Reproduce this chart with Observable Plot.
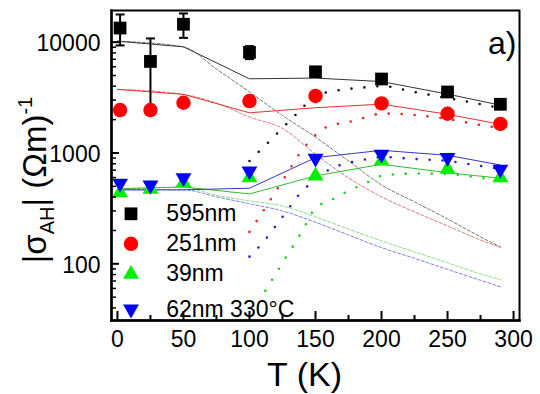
<!DOCTYPE html>
<html><head><meta charset="utf-8">
<script src="https://cdn.jsdelivr.net/npm/d3@7"></script>
<script src="https://cdn.jsdelivr.net/npm/@observablehq/plot@0.6"></script>
<style>body{margin:0;background:#fff;}</style>
</head><body><div id="chart"></div>
<script>
// Measured points
const T = [2, 25, 50, 100, 150, 200, 250, 290];
const s595 = [13400, 6700, 14500, 8100, 5400, 4650, 3550, 2750];
const s251 = [2440, 2440, 2840, 2940, 3270, 2800, 2260, 1830];
const s39  = [439, 471, 540, 598, 621, 847, 713, 598];
const s62  = [533, 512, 598, 688, 896, 973, 908, 713];
// Error bars (595 nm)
const errT = [2, 25, 50, 100];
const errLo = [9340, 2650, 10930, 7030];
const errHi = [17770, 10800, 18150, 9200];
// Solid fit lines
const fitT = [0, 50, 100, 150, 200, 250, 290];
const fit595 = [10200, 9070, 4670, 4740, 4410, 3400, 2700];
const fit251 = [3750, 3380, 2305, 2560, 2760, 2235, 1815];
const fit39  = [475, 494, 427, 621, 791, 664, 592];
const fit62  = [465, 465, 481, 908, 1057, 953, 779];
// Dashed (decreasing) contributions
const dashT = [0, 50, 75, 100, 125, 150, 175, 200, 225, 250, 275, 290];
const dash595 = [10200, 9070, 5715, 3550, 2180, 1390, 847, 515, 362, 254, 175, 142];
const dash251 = [3750, 3380, 2820, 2110, 1665, 977, 596, 402, 294, 220, 164, 141];
const dash39  = [475, 489, 415, 370, 333, 265, 206, 161, 128, 102, 81, 72];
const dash62  = [465, 465, 402, 348, 300, 237, 182, 140, 112, 89, 71, 62];
// Dotted (increasing) contributions
const dotT = [100, 110, 125, 140, 150, 160, 175, 190, 200, 225, 250, 275, 290];
const dot595 = [847, 1110, 1680, 2540, 3335, 3550, 3780, 3935, 4020, 3550, 3125, 2760, 2540];
const dot251 = [194, 294, 560, 1065, 1452, 1750, 1900, 2130, 2270, 2200, 2024, 1786, 1680];
const dot62  = [116, 155, 265, 455, 571, 703, 813, 883, 920, 883, 847, 764, 718];
const dotT39 = [112, 125, 140, 150, 160, 175, 190, 200, 225, 250, 275, 290];
const dot39  = [57, 102, 198, 320, 366, 455, 548, 621, 653, 647, 596, 560];
// Axis ticks
const xMajor = [0, 50, 100, 150, 200, 250, 300];
const xMinor = [25, 75, 125, 175, 225, 275];
const yMajor = [100, 1000, 10000];
const yMinor = [40,50,60,70,80,90,200,300,400,500,600,700,800,900,2000,3000,4000,5000,6000,7000,8000,9000];
// Legend
const legLabels = ["595nm", "251nm", "39nm", "62nm 330\u00B0C"];

const W = 540, H = 394, mL = 111, mR = 21, mT = 10, mB = 74;
const innerW = W - mL - mR, innerH = H - mT - mB;
const rows = (xs, ys) => xs.map((x, i) => ({x, y: ys[i]}));
const FONT = "Liberation Sans, Arial, Helvetica, sans-serif";

const markerColors = ["#000000", "#ff0000", "#00ee00", "#0000ff"];
const solidColors = ["#333333", "#e23232", "#33bb33", "#3535c8"];
const dashColors = ["#666666", "#e06a6a", "#7ad87a", "#7070d8"];
const dotColors = ["#111111", "#e82020", "#22cc22", "#2020d0"];
const symbols = ["square", "circle", "triangle", "triangle"];
const rotates = [0, 0, 0, 180];
const radii = [7.2, 7.2, 5.9, 5.9];

const pts = [s595, s251, s39, s62];
const fits = [fit595, fit251, fit39, fit62];
const dashes = [dash595, dash251, dash39, dash62];
const dots = [[dotT, dot595], [dotT, dot251], [dotT39, dot39], [dotT, dot62]];

const capSymbol = {draw(ctx) { ctx.moveTo(-4.5, 0); ctx.lineTo(4.5, 0); }};

const marks = [];
dashes.forEach((d, i) => marks.push(Plot.line(rows(dashT, d), {x: "x", y: "y", stroke: dashColors[i], strokeWidth: 0.9, strokeDasharray: "3,2", curve: "monotone-x", clip: true})));
dots.forEach(([tx, d], i) => marks.push(Plot.line(rows(tx, d), {x: "x", y: "y", stroke: dotColors[i], strokeWidth: 2.6, strokeDasharray: "0,13", strokeLinecap: "round", curve: "monotone-x", clip: true})));
fits.forEach((d, i) => marks.push(Plot.line(rows(fitT, d), {x: "x", y: "y", stroke: solidColors[i], strokeWidth: 1, clip: true})));
const errRows = errT.map((t, i) => ({x: t, lo: errLo[i], hi: errHi[i]}));
marks.push(Plot.ruleX(errRows, {x: "x", y1: "lo", y2: "hi", stroke: "black", strokeWidth: 2}));
marks.push(Plot.dot(errRows, {x: "x", y: "lo", symbol: capSymbol, stroke: "black", strokeWidth: 2, r: 4}));
marks.push(Plot.dot(errRows, {x: "x", y: "hi", symbol: capSymbol, stroke: "black", strokeWidth: 2, r: 4}));
pts.forEach((d, i) => marks.push(Plot.dot(rows(T, d), {x: "x", y: "y", symbol: symbols[i], r: radii[i], fill: markerColors[i], stroke: "none", rotate: rotates[i]})));
// legend
const legMarkerDy = [203.3, 233.3, 263.7, 298.7];
const legTextDy = [203, 233, 263, 299];
legLabels.forEach((lab, i) => {
  marks.push(Plot.dot([lab], {frameAnchor: "top-left", dx: 19.5, dy: legMarkerDy[i], symbol: symbols[i], r: radii[i], fill: markerColors[i], stroke: "none", rotate: rotates[i]}));
  marks.push(Plot.text([lab], {frameAnchor: "top-left", dx: 54.7, dy: legTextDy[i], text: d => d, textAnchor: "start", lineAnchor: "middle", fontSize: 23, fill: "black"}));
});
// axes: ticks inside
marks.push(Plot.tickX(xMajor, {x: d => d, insetTop: innerH - 9, stroke: "black", strokeWidth: 2}));
marks.push(Plot.tickX(xMinor, {x: d => d, insetTop: innerH - 5, stroke: "black", strokeWidth: 2}));
marks.push(Plot.tickY(yMajor, {y: d => d, insetRight: innerW - 8, stroke: "black", strokeWidth: 2}));
marks.push(Plot.tickY(yMinor, {y: d => d, insetRight: innerW - 5, stroke: "black", strokeWidth: 1.5}));
marks.push(Plot.text(xMajor, {x: d => d, frameAnchor: "bottom", dy: 10, lineAnchor: "top", text: d => String(d), fontSize: 23, fill: "black"}));
marks.push(Plot.text(yMajor, {y: d => d, frameAnchor: "left", dx: -11, dy: 1.5, textAnchor: "end", lineAnchor: "middle", text: d => String(d), fontSize: 23, fill: "black"}));
marks.push(Plot.text(["T (K)"], {frameAnchor: "bottom", dx: -11, dy: 65, lineAnchor: "bottom", text: d => d, fontSize: 34, fill: "black"}));
marks.push(Plot.text(["a)"], {frameAnchor: "top-right", dx: -3, dy: 43, lineAnchor: "bottom", textAnchor: "end", text: d => d, fontSize: 32, fill: "black"}));
marks.push(Plot.frame({stroke: "black", strokeWidth: 2}));
marks.push(Plot.frame({anchor: "bottom", stroke: "black", strokeWidth: 2.6}));
marks.push(Plot.frame({anchor: "left", stroke: "black", strokeWidth: 2.4}));

const plot = Plot.plot({
  width: W, height: H,
  marginLeft: mL, marginRight: mR, marginTop: mT, marginBottom: mB,
  style: {fontFamily: FONT, background: "white", overflow: "visible"},
  x: {domain: [-4.5, 304.5], axis: null},
  y: {type: "log", domain: [30.8, 19300], axis: null},
  marks
});

const svg = d3.select(plot);
const yl = svg.append("text")
  .attr("transform", "translate(46,180) rotate(-90)")
  .attr("text-anchor", "middle")
  .attr("fill", "black")
  .style("font-size", "33px")
  .style("font-family", FONT);
yl.append("tspan").text("|\u03C3");
yl.append("tspan").attr("dy", 8).style("font-size", "20px").text("AH");
yl.append("tspan").attr("dy", -8).text("| (\u03A9m)");
yl.append("tspan").attr("dy", -14).style("font-size", "20px").text("-1");

document.getElementById("chart").appendChild(plot);
</script>
</body></html>
